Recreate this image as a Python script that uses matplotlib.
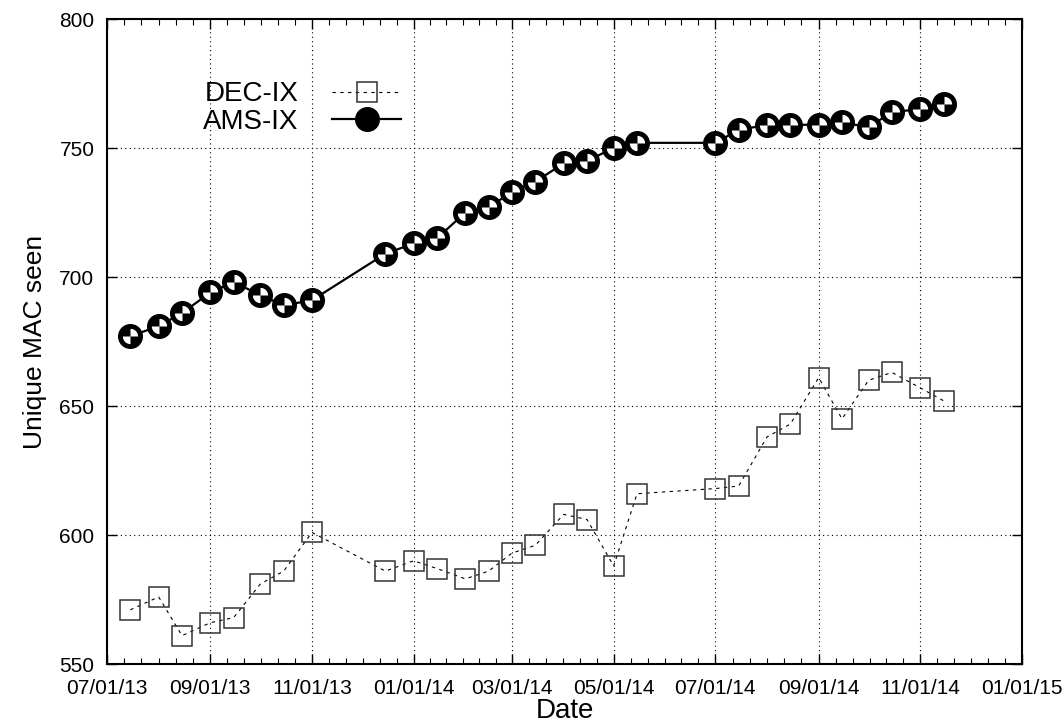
import numpy as np
import matplotlib
matplotlib.use("Agg")
from matplotlib import pyplot as plt
from matplotlib.path import Path
import matplotlib.dates as mdates
from datetime import datetime

plt.rcParams['font.family'] = ['Liberation Sans', 'DejaVu Sans']

dates = ["2013-07-15", "2013-08-01", "2013-08-15", "2013-09-01", "2013-09-15",
         "2013-10-01", "2013-10-15", "2013-11-01", "2013-12-15", "2014-01-01",
         "2014-01-15", "2014-02-01", "2014-02-15", "2014-03-01", "2014-03-15",
         "2014-04-01", "2014-04-15", "2014-05-01", "2014-05-15", "2014-07-01",
         "2014-07-15", "2014-08-01", "2014-08-15", "2014-09-01", "2014-09-15",
         "2014-10-01", "2014-10-15", "2014-11-01", "2014-11-15"]
dec_ix = [571, 576, 561, 566, 568, 581, 586, 601, 586, 590,
          587, 583, 586, 593, 596, 608, 606, 588, 616, 618,
          619, 638, 643, 661, 645, 660, 663, 657, 652]
ams_ix = [677, 681, 686, 694, 698, 693, 689, 691, 709, 713,
          715, 725, 727, 733, 737, 744, 745, 750, 752, 752,
          757, 759, 759, 759, 760, 758, 764, 765, 767]

major_dates = ["2013-07-01", "2013-09-01", "2013-11-01", "2014-01-01", "2014-03-01",
               "2014-05-01", "2014-07-01", "2014-09-01", "2014-11-01", "2015-01-01"]
y_ticks = [550, 600, 650, 700, 750, 800]

x = [datetime.strptime(d, "%Y-%m-%d") for d in dates]
xmaj = mdates.date2num([datetime.strptime(d, "%Y-%m-%d") for d in major_dates])

# gnuplot-like minor ticks: 6 subdivisions per major interval
xmin = []
for a, b in zip(xmaj[:-1], xmaj[1:]):
    xmin.extend(np.linspace(a, b, 7)[1:-1])

fig = plt.figure(figsize=(10.62, 7.27), dpi=100)
ax = fig.add_axes([107 / 1062, 63 / 727, 915 / 1062, 645 / 727])

# quarter wedges for the AMS-IX marker
th1 = np.linspace(0, np.pi / 2, 12)
th2 = th1 + np.pi
verts = [(0, 0)] + list(zip(np.cos(th1), np.sin(th1))) + [(0, 0)]
verts += [(0, 0)] + list(zip(np.cos(th2), np.sin(th2))) + [(0, 0)]
codes = []
for _ in range(2):
    codes += [Path.MOVETO] + [Path.LINETO] * 12 + [Path.CLOSEPOLY]
wedges = Path(verts, codes)

ax.plot(x, dec_ix, color='black', lw=0.8, dashes=(3, 4), marker='s', ms=14,
        mfc='none', mec='#333333', mew=1.1, label='DEC-IX')
ax.plot(x, ams_ix, color='black', lw=1.6, marker='o', ms=17, mfc='black',
        mec='black', label='AMS-IX')
ax.plot(x, ams_ix, ls='none', marker=wedges, ms=11, mfc='white', mec='none')

ax.set_xlim(xmaj[0], xmaj[-1])
ax.set_ylim(550, 800)
ax.set_xticks(xmaj)
ax.set_xticks(xmin, minor=True)
ax.xaxis.set_major_formatter(mdates.DateFormatter('%m/%d/%y'))
ax.set_yticks(y_ticks)

ax.tick_params(axis='both', which='major', direction='in', length=7, width=1,
               top=True, right=True, labelsize=15)
ax.tick_params(axis='x', which='major', pad=11)
ax.tick_params(axis='y', which='major', pad=9)
ax.tick_params(axis='x', which='minor', direction='in', length=4, width=0.8,
               top=True)
for s in ax.spines.values():
    s.set_linewidth(1.5)

ax.grid(True, which='major', color='black', ls=(0, (1, 3)), lw=0.8)

ax.set_xlabel('Date', fontsize=20, labelpad=0)
ax.set_ylabel('Unique MAC seen', fontsize=19, labelpad=9)

handles, labels = ax.get_legend_handles_labels()
ax.legend(handles[:2], labels[:2], loc='upper left', bbox_to_anchor=(0.09, 0.925),
          frameon=False, markerfirst=False, fontsize=20, handlelength=2.5,
          labelspacing=0.05, handletextpad=1.2, borderpad=0)

fig.savefig('out.png', dpi=100)
